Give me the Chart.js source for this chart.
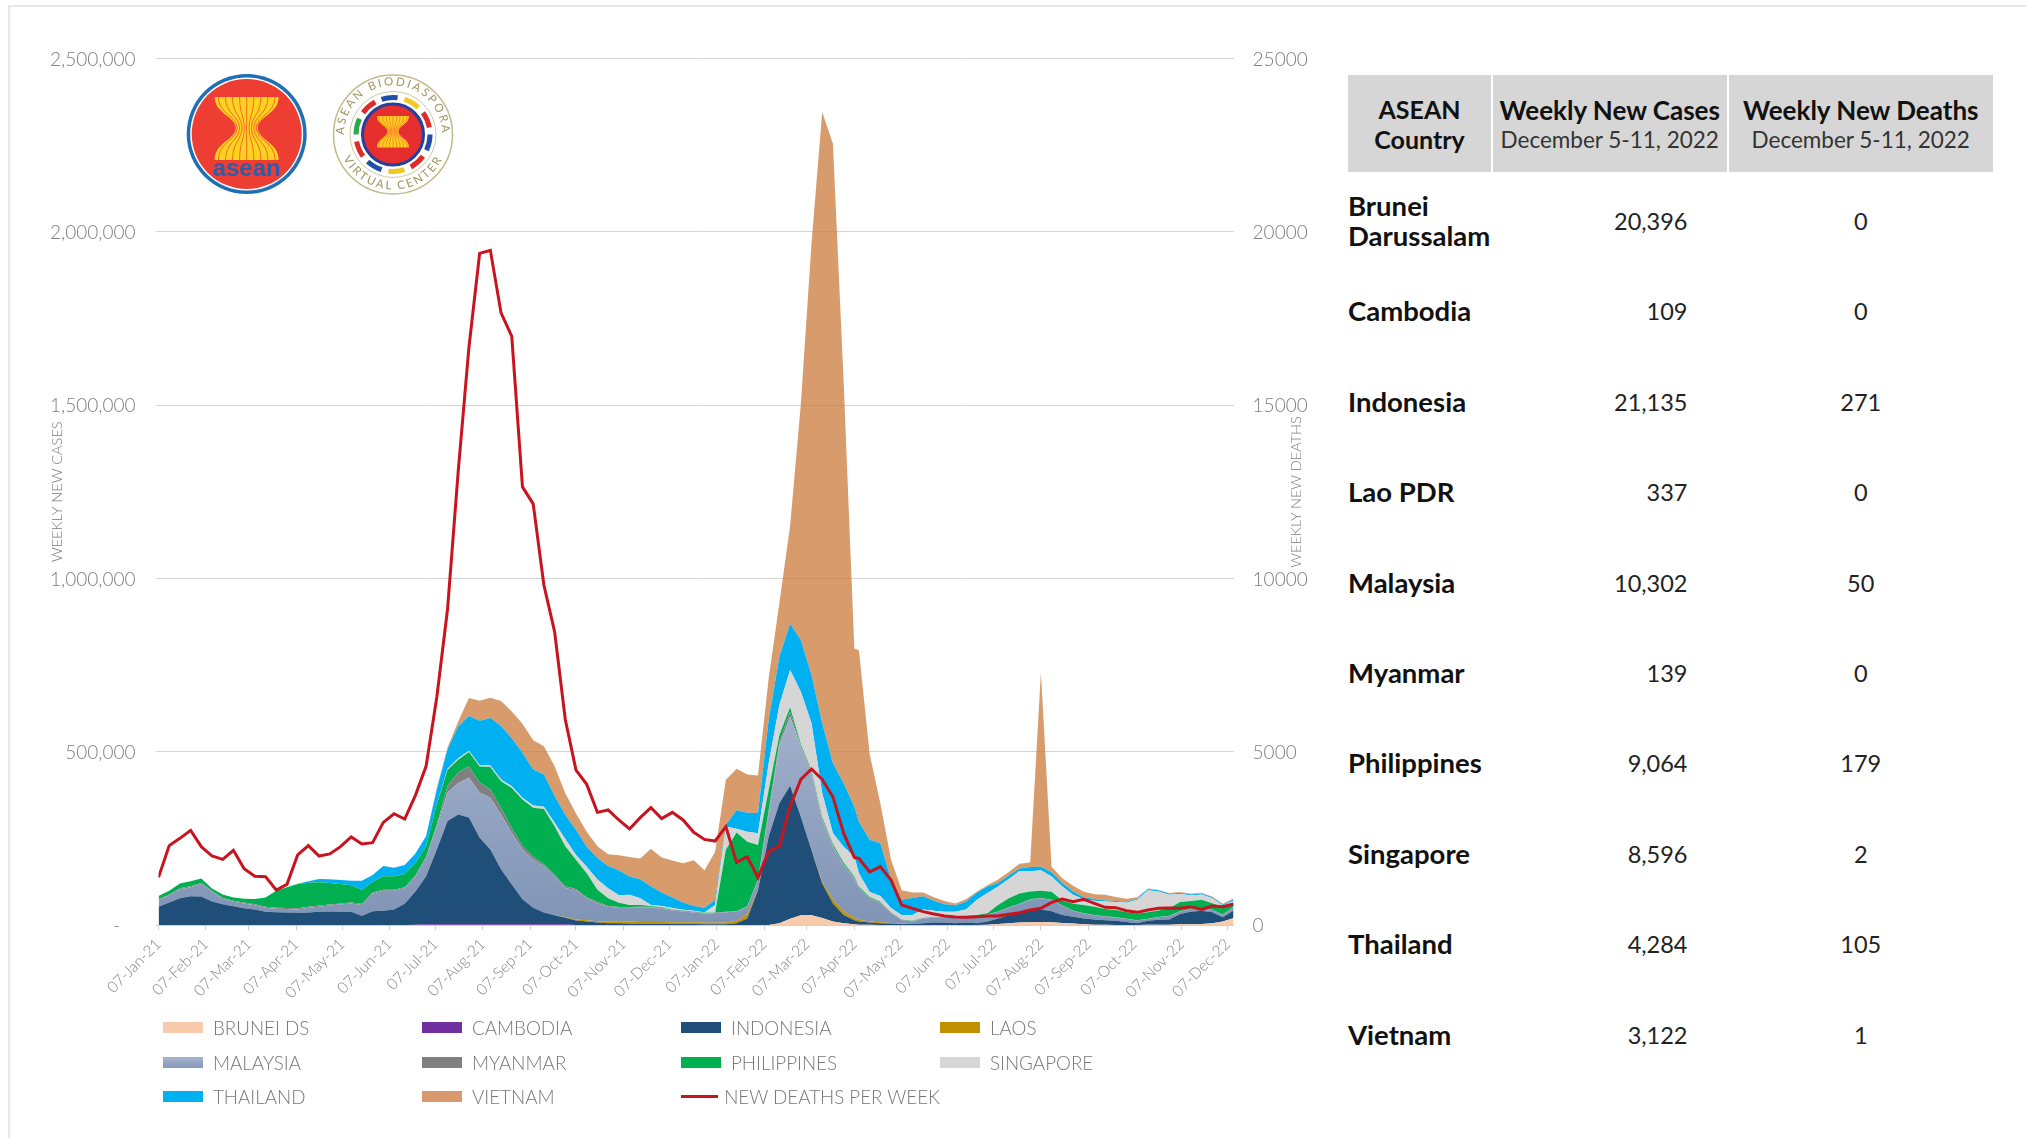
<!DOCTYPE html>
<html>
<head>
<meta charset="utf-8">
<title>ASEAN weekly cases and deaths</title>
<script src="https://cdn.jsdelivr.net/npm/chart.js@4"></script>
<style>
  html, body { margin: 0; padding: 0; background: #fff; }
  body { width: 2026px; height: 1138px; position: relative; overflow: hidden; font-family: Lato, sans-serif; }
  #frameTop { position: absolute; left: 8px; top: 5px; right: 0; height: 2px; background: #e8e8e8; }
  #frameLeft { position: absolute; left: 8px; top: 5px; bottom: 0; width: 2px; background: #e8e8e8; }
  #myChart { position: absolute; left: 0; top: 0; }
  #logos { position: absolute; left: 180px; top: 70px; }
  #deathsTitle { position: absolute; left: 1196px; top: 482px; width: 200px; height: 20px; line-height: 20px; text-align: center; transform: rotate(-90deg); color: #7a7a7a; font-size: 14.5px; font-weight: 300; white-space: nowrap; }

  #legend { position: absolute; left: 163px; top: 1010px; display: grid; grid-template-columns: repeat(4, 259px); grid-auto-rows: 34.7px; color: #767676; font-size: 18.8px; font-weight: 300; }
  #legend div { display: flex; align-items: center; white-space: nowrap; }
  #legend i { display: inline-block; width: 40px; height: 11px; margin-right: 10px; }
  #legend i.line { height: 3px; margin-right: 6px; }

  #stats { position: absolute; left: 1348px; top: 75px; width: 645px; border-collapse: separate; border-spacing: 0; table-layout: fixed; color: #111; }
  #stats th { background: #d6d6d6; height: 97px; padding: 3px 0 0; box-sizing: border-box; font-size: 26px; font-weight: 700; border-right: 2px solid #fff; line-height: 30px; white-space: nowrap; }
  #stats th:first-child { font-size: 25px; white-space: normal; padding-top: 0; }
  #stats th:last-child { border-right: 0; }
  #stats th span { display: block; font-weight: 400; font-size: 22.5px; color: #333; }
  #stats td { height: 90.4px; padding: 0; font-size: 23.5px; color: #222; }
  #stats td:first-child { font-weight: 700; font-size: 27.5px; color: #111; line-height: 30px; }
  #stats td.cases { text-align: right; padding-right: 41px; }
  #stats td.deaths { text-align: center; }
  #stats tr.first td { height: 94.2px; padding-top: 3.8px; box-sizing: border-box; }
</style>
</head>
<body>
<div id="frameTop"></div>
<div id="frameLeft"></div>
<canvas id="myChart" width="1340" height="1138"></canvas>
<div id="deathsTitle">WEEKLY NEW DEATHS</div>

<svg id="logos" width="290" height="130" viewBox="180 70 290 130">
  <defs>
    <path id="sheaf" d="M-32,-37 H32 C32,-20 11,-18 11,-6 C11,6 32,8 32,26 H-32 C-32,8 -11,6 -11,-6 C-11,-18 -32,-20 -32,-37 Z" fill="#ffd21f"/>
    <path id="ringTop" d="M347,151.3 A49,49 0 1 1 439,151.3" fill="none"/>
    <path id="ringBottom" d="M338,134.5 A55,55 0 0 0 448,134.5" fill="none"/>
  </defs>

  <!-- ASEAN emblem -->
  <g transform="translate(246.7,134)">
    <circle r="60" fill="#1e6fb5"/>
    <circle r="56.5" fill="#fff"/>
    <circle r="55" fill="#ee3e33"/>
    <g id="bigSheaf"><use href="#sheaf"/></g>
    <text x="0" y="42" text-anchor="middle" font-family="Liberation Sans" font-weight="700" font-size="24" fill="#2f5ca8">asean</text>
  </g>

  <!-- Biodiaspora seal -->
  <g transform="translate(393,134.5)">
    <circle r="59.5" fill="#fff" stroke="#c4b98a" stroke-width="1.5"/>
    <circle r="43" fill="none" stroke="#c4b98a" stroke-width="0.8"/>
    <g id="ribbons" fill="none" stroke-width="5"></g>
    <circle r="30.5" fill="#e62e2e" stroke="#22409c" stroke-width="3"/>
    <g id="smallSheaf" transform="scale(0.5)"><use href="#sheaf"/></g>
  </g>
  <text font-family="Lato" font-size="11.5" letter-spacing="2.2" fill="#a0945e">
    <textPath href="#ringTop" startOffset="50%" text-anchor="middle">ASEAN BIODIASPORA</textPath>
  </text>
  <text font-family="Lato" font-size="11.5" letter-spacing="2.2" fill="#a0945e">
    <textPath href="#ringBottom" startOffset="50%" text-anchor="middle">VIRTUAL CENTER</textPath>
  </text>
</svg>

<div id="legend"></div>
<table id="stats"></table>

<script>
// days since 07-Jan-21 for each reporting date
var weekDays = [
  0,7,14,21,28,35,42,49,56,63,
  70,77,84,91,98,105,112,119,126,133,
  140,147,154,161,168,175,182,189,196,203,
  210,217,224,231,238,245,252,259,266,273,
  280,287,294,301,308,315,322,329,336,343,
  350,357,364,371,378,385,392,399,406,413,
  420,427,434,441,448,455,458,465,472,479,
  486,493,500,507,514,521,528,535,542,549,
  556,563,570,577,584,591,598,605,612,619,
  626,633,640,647,654,661,668,675,682,689,
  696,703
];

var tickDays = [0,31,59,90,120,151,181,212,243,273,304,334,365,396,424,455,485,516,546,577,608,638,669,699];
var tickLabels = [
  "07-Jan-21","07-Feb-21","07-Mar-21","07-Apr-21","07-May-21","07-Jun-21","07-Jul-21","07-Aug-21",
  "07-Sep-21","07-Oct-21","07-Nov-21","07-Dec-21","07-Jan-22","07-Feb-22","07-Mar-22","07-Apr-22",
  "07-May-22","07-Jun-22","07-Jul-22","07-Aug-22","07-Sep-22","07-Oct-22","07-Nov-22","07-Dec-22"
];

// weekly new cases, in thousands
var bruneiK = [
  0,0,0,0,0,0,0,0,0,0,
  0,0,0,0,0,0,0,0,0,0,
  0,0,0,0,0,0,0,0,0,0,
  0,0,0,0,0,0,0,0,0,0,
  0,0,0,0,0,0,0,0,0,0,
  0,0,0,0,0,0,0,0,5,18,
  28,28,20,10,5,2,1,1,0,0,
  0,0,0,0,0,0,0,0,1,3,
  5,7,8,9,8,6,4,2,1,1,
  0,0,0,1,1,1,2,2,3,5,
  10,20.396
];
var cambodiaK = [
  0,0,0,0,0,0,0,0,0,0,
  0,0,0,0,0,0,0,0,0,0,
  0,0,0,0,1,2,2,2,2,2,
  2,2,2,2,2,2,2,2,2,0,
  0,0,0,0,0,0,0,0,0,0,
  0,0,0,0,0,0,0,0,0,0,
  0,0,0,0,0,0,0,0,0,0,
  0,0,0,0,0,0,0,0,0,0,
  0,0,0,0,0,0,0,0,0,0,
  0,0,0,0,0,0,0,0,0,0,
  0,0.109
];
var indonesiaK = [
  53,65,77,83,82,68,60,54,48,45,
  38,37,36,35,36,38,39,38,38,27,
  40,41,45,61,96,139,216,298,317,308,
  250,216,159,115,72,48,34,26,19,13,
  10,7,5,5,4,3,3,3,3,3,
  3,2,2,2,5,19,101,255,346,384,
  284,188,100,52,24,12,9,6,5,4,
  3,3,5,7,7,5,7,5,9,16,
  24,31,37,36,32,23,20,17,15,13,
  12,9,5,11,14,15,30,36,38,32,
  12,21.135
];
var laosK = [
  0,0,0,0,0,0,0,0,0,0,
  0,0,0,0,0,0,0,0,0,0,
  0,0,0,0,0,0,0,0,0,0,
  0,0,0,0,0,0,0,0,2,3,
  4,4,5,6,6,6,6,6,5,5,
  5,5,5,5,7,12,3,0,0,0,
  0,0,5,12,10,7,5,3,3,2,
  1,0,0,0,0,0,0,0,0,0,
  0,0,0,0,0,0,0,0,0,0,
  0,0,0,0,0,0,0,0,0,0,
  0,0.337
];
var malaysiaK = [
  19,21,26,26,36,28,16,13,14,12,
  12,10,10,10,14,15,17,22,24,31,
  51,58,54,45,43,53,67,82,91,115,
  130,149,158,149,144,139,134,113,84,84,
  63,52,43,39,40,42,42,38,34,31,
  28,26,27,30,27,22,26,67,168,199,
  202,221,178,152,134,113,91,66,55,28,
  10,7,14,14,14,16,17,21,19,19,
  21,22,28,32,32,26,17,14,12,10,
  9,8,8,5,7,10,7,8,7,6,
  7,10.302
];
var myanmarK = [
  2,2,3,3,3,2,2,3,3,3,
  3,3,3,3,3,3,3,2,3,3,
  3,3,3,3,3,3,5,19,31,32,
  29,24,19,14,10,8,5,4,5,4,
  3,3,2,2,2,2,2,2,2,2,
  2,1,1,1,1,1,1,10,10,14,
  3,3,3,3,2,2,2,2,2,2,
  1,1,1,1,1,1,1,1,1,1,
  1,1,1,1,1,1,1,1,1,1,
  1,1,1,1,1,1,1,1,1,1,
  1,0.139
];
var philippinesK = [
  10,11,14,14,13,7,10,9,11,15,
  26,49,60,70,69,67,62,56,50,40,
  31,39,39,38,36,31,58,46,36,42,
  46,65,77,115,134,141,160,140,115,84,
  69,36,22,12,6,5,2,2,1,1,
  1,1,1,179,227,186,100,58,19,13,
  5,5,5,5,5,4,3,3,2,1,
  1,1,1,1,1,1,1,2,4,19,
  26,30,23,21,23,15,19,24,24,21,
  21,19,19,19,19,21,26,22,24,19,
  22,9.064
];
var singaporeK = [
  0,0,0,0,0,0,0,0,0,0,
  0,0,0,0,0,0,0,0,0,0,
  0,0,0,0,0,0,0,4,4,4,
  4,4,5,5,5,7,6,10,21,14,
  19,29,29,22,29,19,3,4,4,2,
  2,1,22,67,11,29,34,77,87,108,
  151,137,69,31,46,57,38,14,17,12,
  12,17,24,18,15,15,19,43,58,53,
  56,65,58,59,44,40,26,16,17,22,
  23,27,40,63,55,39,24,16,15,14,
  4,8.596
];
var thailandK = [
  0,0,0,0,0,0,0,0,0,0,
  0,0,0,1,4,10,11,12,13,27,
  19,29,24,26,27,29,43,56,92,100,
  128,137,154,139,130,104,93,77,70,72,
  58,62,64,72,53,55,53,39,30,21,
  14,14,14,5,53,55,58,125,139,133,
  149,139,202,202,183,144,149,151,152,82,
  45,49,38,29,22,19,22,21,19,10,
  10,7,12,10,12,10,10,6,5,3,
  3,3,3,4,3,3,3,3,3,3,
  3,4.284
];
var vietnamK = [
  0,0,0,0,0,0,0,0,0,0,
  0,0,0,0,0,0,0,0,0,0,
  0,0,0,0,0,0,5,5,14,52,
  58,59,72,77,84,84,82,86,62,48,
  43,34,34,43,56,60,109,101,107,113,
  132,108,139,130,120,110,108,120,155,283,
  680,1246,1764,1787,1160,457,495,248,115,57,
  27,16,11,10,9,5,7,3,4,10,
  10,14,13,561,15,14,16,16,14,16,
  12,9,4,1,1,2,2,2,2,2,
  2,3.122
];
var newDeaths = [
  1375,2290,2500,2730,2260,1990,1895,2155,1625,1404,
  1395,1010,1173,2020,2290,1990,2050,2260,2540,2337,
  2375,2960,3210,3058,3740,4587,6580,9110,13100,16670,
  19376,19466,17660,16980,12640,12150,9810,8465,5930,4470,
  4058,3250,3318,3030,2770,3097,3385,3068,3250,3030,
  2673,2470,2423,2837,1808,1970,1366,2116,2279,3420,
  4200,4500,4200,3700,2650,1950,1920,1530,1683,1300,
  577,481,385,317,260,230,221,240,260,260,
  308,356,433,481,654,750,673,740,625,510,
  500,413,365,433,481,490,481,529,452,548,
  529,608
];

var seriesNames = ["BRUNEI DS","CAMBODIA","INDONESIA","LAOS","MALAYSIA","MYANMAR","PHILIPPINES","SINGAPORE","THAILAND","VIETNAM"];
var seriesValues = [bruneiK,cambodiaK,indonesiaK,laosK,malaysiaK,myanmarK,philippinesK,singaporeK,thailandK,vietnamK];
var seriesColors = ["#f8cbad","#7030a0","#1f4e79","#bf9000","#8fa1bf","#808080","#00b050","#d6d6d6","#00b0f0","rgba(203,122,58,0.75)"];
var swatchColors = ["#f8cbad","#7030a0","#1f4e79","#bf9000","linear-gradient(#a6b4cd,#8498b8)","#808080","#00b050","#d6d6d6","#00b0f0","#d89a6c"];

// table on the right
var tableCountries = ["Brunei Darussalam","Cambodia","Indonesia","Lao PDR","Malaysia","Myanmar","Philippines","Singapore","Thailand","Vietnam"];
var tableCases = ["20,396","109","21,135","337","10,302","139","9,064","8,596","4,284","3,122"];
var tableDeaths = ["0","0","271","0","50","0","179","2","105","1"];

function toPoints(values, factor) {
  return values.map(function (v, i) { return { x: weekDays[i], y: v * factor }; });
}

// Malaysia band gets lighter towards the top
function malaysiaFill(context) {
  var area = context.chart.chartArea;
  if (!area) return seriesColors[4];
  var g = context.chart.ctx.createLinearGradient(0, area.bottom, 0, area.bottom - 235);
  g.addColorStop(0, "#8094b6");
  g.addColorStop(1, "#a6b4cd");
  return g;
}

var datasets = seriesNames.map(function (name, i) {
  return {
    label: name,
    data: toPoints(seriesValues[i], 1000),
    yAxisID: "y",
    backgroundColor: i === 4 ? malaysiaFill : seriesColors[i],
    borderWidth: 0,
    fill: i === 0 ? "origin" : "-1",
    pointRadius: 0,
    tension: 0,
    order: 1
  };
});
datasets.push({
  label: "NEW DEATHS PER WEEK",
  data: toPoints(newDeaths, 1),
  yAxisID: "yDeaths",
  borderColor: "#c8141e",
  borderWidth: 3,
  borderJoinStyle: "miter",
  fill: false,
  pointRadius: 0,
  tension: 0,
  order: 0
});

Chart.defaults.font.family = "Lato, sans-serif";
Chart.defaults.color = "#7e7e7e";

new Chart("myChart", {
  type: "line",
  data: { datasets: datasets },
  options: {
    responsive: false,
    animation: false,
    layout: { padding: { top: 58.5 } },
    plugins: { legend: { display: false }, tooltip: { enabled: false } },
    scales: {
      x: {
        type: "linear",
        min: 0,
        max: 703,
        afterFit: function (scale) { scale.height = 213; },
        afterBuildTicks: function (scale) {
          scale.ticks = tickDays.map(function (d) { return { value: d }; });
        },
        grid: { drawOnChartArea: false, color: "#d0d0d0", tickLength: 5 },
        border: { color: "#d0d0d0" },
        ticks: {
          autoSkip: false,
          minRotation: 45,
          maxRotation: 45,
          padding: 5,
          color: "#858585",
          font: { size: 15.5, weight: 300 },
          callback: function (value) { return tickLabels[tickDays.indexOf(value)]; }
        }
      },
      y: {
        stacked: true,
        min: 0,
        max: 2500000,
        afterFit: function (scale) { scale.width = 158.5; },
        grid: { color: "#d4d4d4", tickLength: 3 },
        border: { display: false },
        title: { display: true, text: "WEEKLY NEW CASES", font: { size: 14.5, weight: 300 }, color: "#7a7a7a", padding: { top: 49, bottom: 0 } },
        ticks: {
          stepSize: 500000,
          padding: 20,
          labelOffset: 1,
          font: { size: 19, weight: 300 },
          callback: function (v) { return v === 0 ? "-   " : v.toLocaleString("en-US"); }
        }
      },
      yDeaths: {
        position: "right",
        min: 0,
        max: 25000,
        afterFit: function (scale) { scale.width = 106.4; },
        grid: { display: false },
        border: { display: false },
        ticks: {
          stepSize: 5000,
          padding: 11,
          labelOffset: 1,
          font: { size: 19, weight: 300 },
          callback: function (v) { return String(v); }
        }
      }
    }
  }
});

// legend laid out on a fixed grid, columns do not follow label width
var legendBox = document.getElementById("legend");
datasets.forEach(function (ds, i) {
  var row = document.createElement("div");
  var mark = document.createElement("i");
  if (i < seriesNames.length) {
    mark.style.background = swatchColors[i];
  } else {
    mark.className = "line";
    mark.style.background = ds.borderColor;
  }
  row.appendChild(mark);
  row.appendChild(document.createTextNode(ds.label));
  legendBox.appendChild(row);
});

var html = '<colgroup><col style="width:145px"><col style="width:235.5px"><col></colgroup>' +
  '<thead><tr><th>ASEAN<br>Country</th><th>Weekly New Cases<span>December 5-11, 2022</span></th>' +
  '<th>Weekly New Deaths<span>December 5-11, 2022</span></th></tr></thead><tbody>';
tableCountries.forEach(function (c, i) {
  html += '<tr' + (i === 0 ? ' class="first"' : '') + '><td>' + c + '</td><td class="cases">' + tableCases[i] +
    '</td><td class="deaths">' + tableDeaths[i] + '</td></tr>';
});
document.getElementById("stats").innerHTML = html + '</tbody>';

// logo details: stems of the rice sheaves and the ribbon ring on the seal
var SVG_NS = "http://www.w3.org/2000/svg";
function addStems(parent, k) {
  for (var s = -4; s <= 4; s++) {
    var p = document.createElementNS(SVG_NS, "path");
    var a = s * 7.1, b = s * 2.4;
    p.setAttribute("d", "M" + a + ",-37 C" + a + ",-20 " + b + ",-18 " + b + ",-6 C" + b + ",6 " + a + ",8 " + a + ",26");
    p.setAttribute("fill", "none");
    p.setAttribute("stroke", "#ee3e33");
    p.setAttribute("stroke-width", k);
    parent.appendChild(p);
  }
}
addStems(document.getElementById("bigSheaf"), 0.7);
addStems(document.getElementById("smallSheaf"), 1);
var ribbonColors = ["#1f4fa8","#e02b2b","#f2c81e","#1f4fa8","#e02b2b","#2aa84a","#e02b2b","#1f4fa8","#f2c81e","#e02b2b"];
var ribbons = document.getElementById("ribbons");
ribbonColors.forEach(function (color, i) {
  var c = document.createElementNS(SVG_NS, "circle");
  c.setAttribute("r", 37);
  c.setAttribute("stroke", color);
  c.setAttribute("pathLength", 100);
  c.setAttribute("stroke-dasharray", "7 93");
  c.setAttribute("stroke-dashoffset", -i * 10);
  ribbons.appendChild(c);
});
</script>
</body>
</html>
